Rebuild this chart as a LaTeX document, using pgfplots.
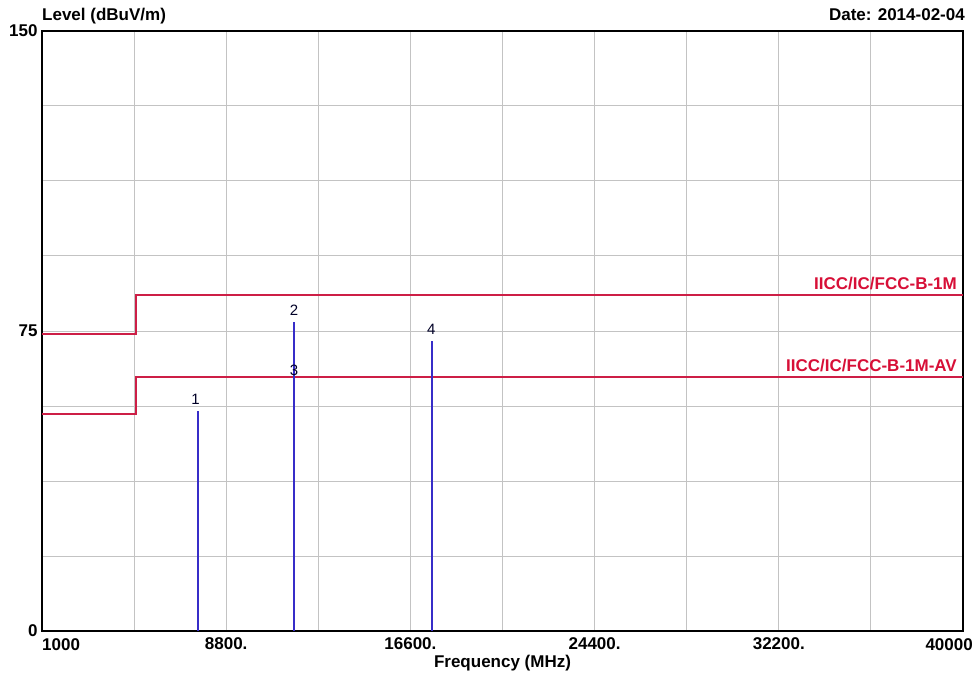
\documentclass[border=0pt]{standalone}
\usepackage{fontspec}
\setmainfont{Liberation Sans}
\usepackage{pgfplots}
\pgfplotsset{compat=1.18}
\definecolor{limred}{RGB}{205,30,70}
\definecolor{labred}{RGB}{215,15,55}
\definecolor{peakblue}{RGB}{55,45,200}
\definecolor{gridgray}{RGB}{195,195,195}
\newcommand{\lbl}{\fontsize{17}{20}\selectfont\bfseries}
\begin{document}
\begin{tikzpicture}
\begin{axis}[
    name=ax, at={(0,0)}, anchor=south west,
    scale only axis, width=921pt, height=600pt,
    xmin=1000, xmax=40000, ymin=0, ymax=150,
    scaled x ticks=false,
    xtick={1000,4900,8800,12700,16600,20500,24400,28300,32200,36100,40000},
    xticklabels={,,\textbf{8800.},,\textbf{16600.},,\textbf{24400.},,\textbf{32200.},,},
    ytick={0,18.75,37.5,56.25,75,93.75,112.5,131.25,150},
    yticklabels={\textbf{0},,,,\textbf{75},,,,\textbf{150}},
    tick label style={font=\lbl},
    xticklabel style={yshift=-3pt},
    yticklabel style={xshift=-1pt},
    grid=major,
    major grid style={gridgray, line width=1pt},
    major tick length=0pt,
    axis line style={black, line width=1.8pt},
    clip=false,
]
% limit lines
\addplot[limred, line width=2pt, sharp plot] coordinates {
    (1000,74.2) (4960,74.2) (4960,83.9) (40000,83.9)
};
\addplot[limred, line width=2pt, sharp plot] coordinates {
    (1000,54.2) (4960,54.2) (4960,63.5) (40000,63.5)
};
% measured peaks
\addplot[peakblue, line width=2pt, ycomb, mark=none] coordinates {
    (7620,55.1) (11670,77.3) (17500,72.6)
};
% marker numbers
\addplot[draw=none, mark=none, nodes near coords, point meta=explicit symbolic,
    every node near coord/.append style={font=\fontsize{15}{17}\selectfont,
        text=black!85!blue, anchor=south, inner sep=2pt, yshift=4pt}]
    coordinates {
    (7500,55.1) [1] (11670,77.3) [2] (11670,62.3) [3] (17480,72.6) [4]
};
% labels
\node[font=\lbl, anchor=north west, inner sep=0pt] at (rel axis cs:0,0) [yshift=-7pt] {1000};
\node[font=\lbl, anchor=north east, inner sep=0pt] at (rel axis cs:1,0) [yshift=-7pt, xshift=10pt] {40000};
\node[font=\lbl, anchor=center] at (rel axis cs:0.5,0) [yshift=-32pt] {Frequency (MHz)};
\node[font=\lbl, anchor=base west, inner sep=0pt] at (rel axis cs:0,1) [yshift=10pt] {Level (dBuV/m)};
\node[font=\lbl, anchor=base east, inner sep=0pt] at (rel axis cs:1,1) [yshift=10pt, xshift=2pt] {Date: 2014-02-04};
\node[font=\lbl, text=labred, anchor=base east, inner sep=0pt] at (axis cs:40000,83.9) [xshift=-6pt, yshift=6pt] {IICC/IC/FCC-B-1M};
\node[font=\lbl, text=labred, anchor=base east, inner sep=0pt] at (axis cs:40000,63.5) [xshift=-6pt, yshift=6pt] {IICC/IC/FCC-B-1M-AV};
\end{axis}
\pgfresetboundingbox
\path ([xshift=-42pt,yshift=-52pt]ax.south west) rectangle ([xshift=15pt,yshift=31pt]ax.north east);
\end{tikzpicture}
\end{document}
